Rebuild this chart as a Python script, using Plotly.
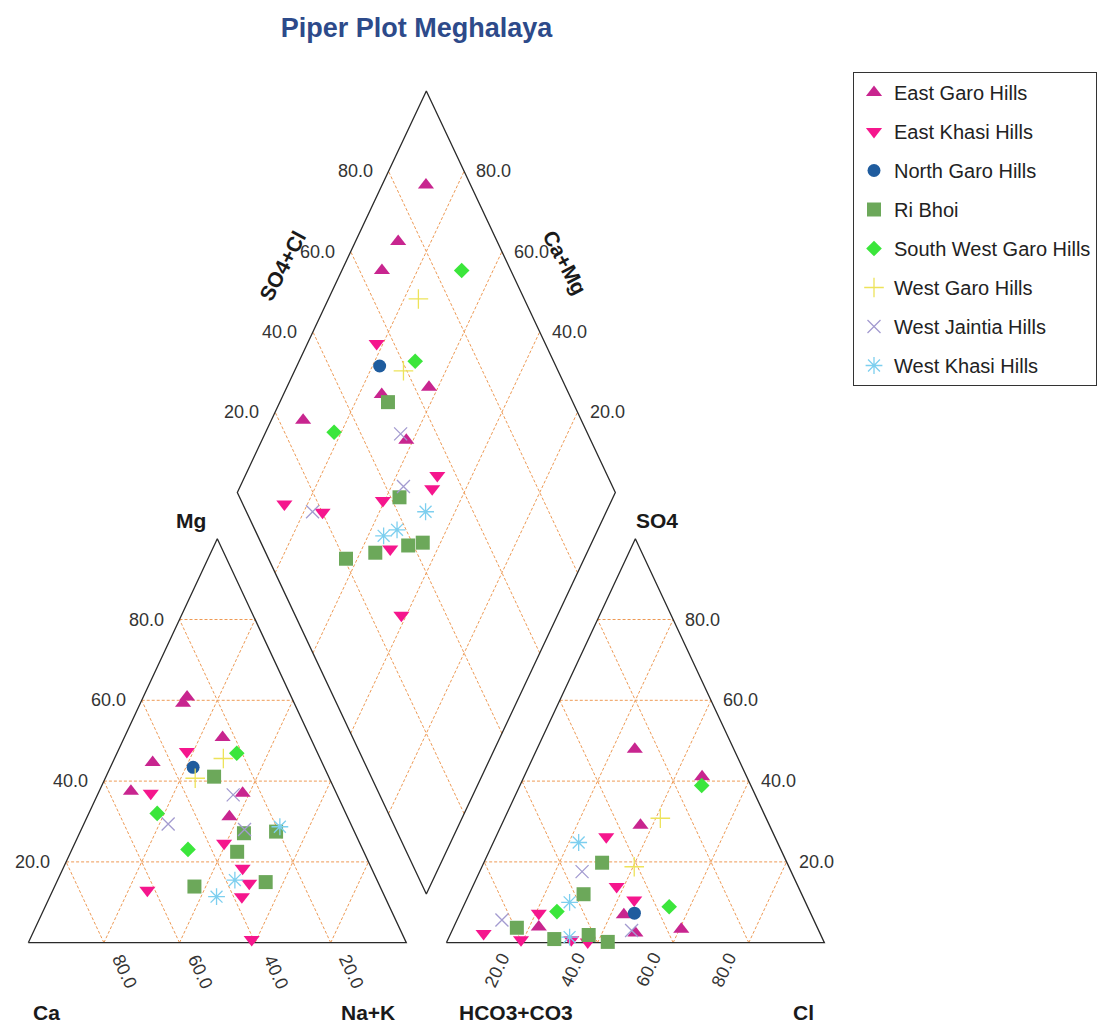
import numpy as np
import plotly.graph_objects as go

# ---------------- data (percent of meq) ----------------
SERIES = ["East Garo Hills", "East Khasi Hills", "North Garo Hills", "Ri Bhoi",
          "South West Garo Hills", "West Garo Hills", "West Jaintia Hills", "West Khasi Hills"]

SAMPLE_DISTRICT = (["East Garo Hills"] * 7 + ["East Khasi Hills"] * 8 + ["North Garo Hills"] * 1
                   + ["Ri Bhoi"] * 6 + ["South West Garo Hills"] * 3 + ["West Garo Hills"] * 2
                   + ["West Jaintia Hills"] * 3 + ["West Khasi Hills"] * 3)

CA = [27.6, 29.4, 44.8, 31.2, 23.2, 54.1, 24.8,
      34.4, 49.1, 62.0, 35.9, 37.8, 34.2, 34.1, 40.5,
      34.7,
      30.3, 29.4, 49.1, 33.5, 20.7, 29.7,
      21.4, 46.2, 49.9,
      35.5, 25.6,
      28.8, 48.3, 27.5,
      19.1, 37.6, 44.5]
MG = [60.8, 59.3, 44.6, 31.2, 50.8, 37.5, 37.0,
      47.3, 37.0, 13.0, 24.6, 11.4, 14.7, 18.4, 0.8,
      43.4,
      41.1, 27.1, 13.9, 22.5, 27.5, 15.0,
      46.9, 23.1, 32.0,
      40.7, 45.6,
      28.0, 29.4, 36.6,
      28.7, 15.5, 11.4]
NAK = [11.6, 11.3, 10.6, 37.6, 26.0, 8.4, 38.2,
       18.3, 13.9, 25.0, 39.5, 50.8, 51.1, 47.5, 58.7,
       21.9,
       28.6, 43.5, 37.0, 44.0, 51.8, 55.3,
       31.7, 30.7, 18.1,
       23.8, 28.8,
       43.2, 22.3, 35.9,
       52.2, 46.9, 44.1]
HCO3 = [11.8, 26.2, 34.1, 36.2, 49.6, 73.6, 48.8,
        44.6, 89.0, 79.9, 62.5, 45.0, 48.0, 66.6, 71.9,
        46.6,
        48.9, 57.7, 79.5, 71.0, 61.4, 57.2,
        13.0, 36.6, 66.9,
        28.0, 40.9,
        55.3, 82.5, 49.5,
        52.6, 62.4, 66.7]
SO4 = [41.1, 47.9, 29.1, 3.3, 6.9, 3.9, 2.4,
       26.2, 2.3, 0.7, 0.2, 10.6, 13.9, 0.7, 7.3,
       7.3,
       19.8, 12.0, 3.7, 0.9, 1.9, 0.2,
       38.9, 8.9, 7.7,
       30.8, 18.8,
       17.6, 5.6, 3.0,
       24.8, 10.0, 1.4]
CL = [47.1, 25.9, 36.8, 60.5, 43.5, 22.5, 48.8,
      29.2, 8.7, 19.4, 37.3, 44.4, 38.1, 32.7, 20.8,
      46.1,
      31.3, 30.3, 16.8, 28.1, 36.7, 42.6,
      48.1, 54.5, 25.4,
      41.2, 40.3,
      27.1, 11.9, 47.5,
      22.6, 27.6, 31.9]

GRID_TICKS = [20, 40, 60, 80]
TICK_LABELS = ["20.0", "40.0", "60.0", "80.0"]

# ---------------- styles ----------------
COLORS = {"East Garo Hills": "#C8258F", "East Khasi Hills": "#F5168D", "North Garo Hills": "#1F5C9E",
          "Ri Bhoi": "#6CA85A", "South West Garo Hills": "#3BE63B", "West Garo Hills": "#EDE35A",
          "West Jaintia Hills": "#A39BD0", "West Khasi Hills": "#7DCFEF"}
SYMBOLS = {"East Garo Hills": ("triangle-up", 14), "East Khasi Hills": ("triangle-down", 14),
           "North Garo Hills": ("circle", 13), "Ri Bhoi": ("square", 14),
           "South West Garo Hills": ("diamond", 12), "West Garo Hills": ("cross-thin", 14),
           "West Jaintia Hills": ("x-thin", 13), "West Khasi Hills": ("asterisk", 14)}

# ---------------- geometry ----------------
H = np.sqrt(3) / 2
GAP = 0.106
DIA_Y0 = 0.1044      # bottom vertex height of the diamond
DIA_H = 0.8607       # half height of the diamond
# screen mapping of the unit coordinates (side 1), and page offset of the plot div
SX0, SXK, SY0, SYK, OFF = 28.3, 378.0, 942.7, 466.5, 8
FIG_W, FIG_H = 1089, 1016


def cation_xy(ca, mg, nak):
    t = ca + mg + nak
    return nak / t + 0.5 * mg / t, H * mg / t


def anion_xy(hco3, so4, cl):
    t = hco3 + so4 + cl
    return 1 + GAP + cl / t + 0.5 * so4 / t, H * so4 / t


def diamond_ac(a, c):
    return 1 + GAP / 2 + 0.5 * (a - c), DIA_Y0 + DIA_H * (a + c)


def diamond_xy(ca, mg, nak, hco3, so4, cl):
    c = (ca + mg) / (ca + mg + nak)
    a = (so4 + cl) / (hco3 + so4 + cl)
    return diamond_ac(a, c)


fig = go.Figure()

# ---------------- grid lines ----------------
gx, gy = [], []


def seg(p, q):
    gx.extend([p[0], q[0], None])
    gy.extend([p[1], q[1], None])


for f in GRID_TICKS:
    # cation
    seg(cation_xy(100 - f, f, 0), cation_xy(0, f, 100 - f))      # const Mg
    seg(cation_xy(f, 0, 100 - f), cation_xy(f, 100 - f, 0))      # const Ca
    seg(cation_xy(100 - f, 0, f), cation_xy(0, 100 - f, f))      # const Na+K
    # anion
    seg(anion_xy(100 - f, f, 0), anion_xy(0, f, 100 - f))        # const SO4
    seg(anion_xy(f, 0, 100 - f), anion_xy(f, 100 - f, 0))        # const HCO3
    seg(anion_xy(100 - f, 0, f), anion_xy(0, 100 - f, f))        # const Cl
    # diamond
    seg(diamond_ac(f / 100, 0), diamond_ac(f / 100, 1))
    seg(diamond_ac(0, f / 100), diamond_ac(1, f / 100))

fig.add_trace(go.Scatter(x=gx, y=gy, mode="lines", hoverinfo="skip", showlegend=False,
                         line=dict(color="#EE9A55", width=1, dash="3px,2px")))

# ---------------- outlines ----------------
ox, oy = [], []


def poly(pts):
    for p in pts + [pts[0]]:
        ox.append(p[0]); oy.append(p[1])
    ox.append(None); oy.append(None)


poly([cation_xy(100, 0, 0), cation_xy(0, 0, 100), cation_xy(0, 100, 0)])
poly([anion_xy(100, 0, 0), anion_xy(0, 0, 100), anion_xy(0, 100, 0)])
poly([diamond_ac(0, 0), diamond_ac(1, 0), diamond_ac(1, 1), diamond_ac(0, 1)])
fig.add_trace(go.Scatter(x=ox, y=oy, mode="lines", hoverinfo="skip", showlegend=False,
                         line=dict(color="#2a2a2a", width=1.3)))

# ---------------- samples ----------------
for name in SERIES:
    idx = [i for i, d in enumerate(SAMPLE_DISTRICT) if d == name]
    xs, ys = [], []
    for i in idx:
        for p in (cation_xy(CA[i], MG[i], NAK[i]), anion_xy(HCO3[i], SO4[i], CL[i]),
                  diamond_xy(CA[i], MG[i], NAK[i], HCO3[i], SO4[i], CL[i])):
            xs.append(p[0]); ys.append(p[1])
    sym, size = SYMBOLS[name]
    col = COLORS[name]
    line_only = sym in ("cross-thin", "x-thin", "asterisk")
    fig.add_trace(go.Scatter(
        x=xs, y=ys, mode="markers", name=name, legendgroup=name,
        marker=dict(symbol=sym, size=size, color=col,
                    line=dict(color=col, width=1.3 if line_only else 0))))

# ---------------- text ----------------
ann = []
TF = dict(family="Liberation Sans, Arial, sans-serif", size=18, color="#333333")
LF = dict(family="Liberation Sans, Arial, sans-serif", size=21, color="#1a1a1a")


def add(p, text, font, xs=0, ys=0, xa="center", ya="middle", ang=0):
    ann.append(dict(x=p[0], y=p[1], xref="x", yref="y", text=text, showarrow=False,
                    font=font, xshift=xs, yshift=ys, xanchor=xa, yanchor=ya, textangle=ang))


for v, lab in zip(GRID_TICKS, TICK_LABELS):
    add(cation_xy(100 - v, v, 0), lab, TF, xs=-14, xa="right")
    add(cation_xy(v, 0, 100 - v), lab, TF, xs=21, ys=-29, ang=65)
    add(anion_xy(0, v, 100 - v), lab, TF, xs=10, xa="left")
    add(anion_xy(100 - v, 0, v), lab, TF, xs=-25, ys=-27, ang=-65)
    add(diamond_ac(v / 100, 1), lab, TF, xs=-14, xa="right")
    add(diamond_ac(1, v / 100), lab, TF, xs=10, xa="left")

add(cation_xy(100, 0, 0), "<b>Ca</b>", LF, xs=18, ys=-70)
add(cation_xy(0, 0, 100), "<b>Na+K</b>", LF, xs=-38, ys=-70)
add(cation_xy(0, 100, 0), "<b>Mg</b>", LF, xs=-26, ys=18)
add(anion_xy(100, 0, 0), "<b>HCO3+CO3</b>", LF, xs=70, ys=-70)
add(anion_xy(0, 0, 100), "<b>Cl</b>", LF, xs=-21, ys=-70)
add(anion_xy(0, 100, 0), "<b>SO4</b>", LF, xs=22, ys=18)
add(diamond_ac(0.5, 1), "<b>SO4+Cl</b>", LF, xs=-49, ys=26, ang=-62)
add(diamond_ac(1, 0.5), "<b>Ca+Mg</b>", LF, xs=44, ys=29, ang=62)

xr = [(OFF - SX0) / SXK, (OFF + FIG_W - SX0) / SXK]
yr = [(SY0 - (OFF + FIG_H)) / SYK, (SY0 - OFF) / SYK]

fig.update_layout(
    width=FIG_W, height=FIG_H, autosize=False,
    margin=dict(l=0, r=0, t=0, b=0, pad=0),
    paper_bgcolor="white", plot_bgcolor="white",
    xaxis=dict(range=xr, visible=False, fixedrange=True),
    yaxis=dict(range=yr, visible=False, fixedrange=True),
    annotations=ann,
    title=dict(text="<b>Piper Plot Meghalaya</b>", x=(416.5 - OFF) / FIG_W, y=1 - (28 - OFF) / FIG_H,
               xref="paper", yref="paper", xanchor="center", yanchor="middle",
               font=dict(family="Liberation Sans, Arial, sans-serif", size=27, color="#2D4A8A")),
    legend=dict(x=(853 - OFF) / FIG_W, y=1 - (72 - OFF) / FIG_H, xanchor="left", yanchor="top",
                bgcolor="white", bordercolor="#333333", borderwidth=1, tracegroupgap=10,
                font=dict(family="Liberation Sans, Arial, sans-serif", size=20, color="#222222")),
    showlegend=True,
)

fig.write_html("out.html")
